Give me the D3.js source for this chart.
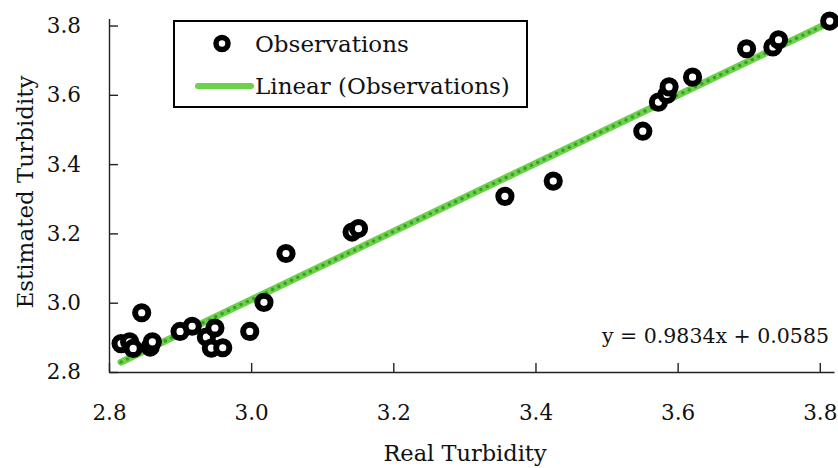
<html>
<head>
<meta charset="utf-8">
<title>Real vs Estimated Turbidity</title>
<style>
  html, body { margin: 0; background: #fff; }
  body { width: 838px; height: 468px; overflow: hidden; }
  text { font-family: "DejaVu Serif", serif; fill: #111; }
  .axis path, .axis line { stroke: #222; stroke-width: 1.4; }
  .axis text { font-size: 21.5px; font-family: "DejaVu Serif", serif; fill: #111; }
</style>
</head>
<body>
<div id="chart"></div>
<script src="https://cdn.jsdelivr.net/npm/d3@7"></script>
<script>
// observations
var realTurbidity = [2.817, 2.829, 2.834, 2.846, 2.858, 2.861, 2.900, 2.917, 2.937, 2.949,
                     2.944, 2.960, 2.998, 3.018, 3.049, 3.142, 3.151, 3.357, 3.425, 3.551,
                     3.573, 3.585, 3.588, 3.621, 3.697, 3.734, 3.742, 3.814]
var estimatedTurbidity = [2.882, 2.887, 2.868, 2.971, 2.872, 2.887, 2.917, 2.932, 2.901, 2.927,
                          2.869, 2.870, 2.917, 3.001, 3.142, 3.204, 3.214, 3.307, 3.351, 3.495,
                          3.579, 3.601, 3.623, 3.651, 3.733, 3.738, 3.759, 3.813]
var xTicks = [2.8, 3.0, 3.2, 3.4, 3.6, 3.8]
var yTicks = [2.8, 3.0, 3.2, 3.4, 3.6, 3.8]
var trendSlope = 0.9834
var trendIntercept = 0.0585
var legendLabels = ["Observations", "Linear (Observations)"]

var width = 838, height = 468

var svg = d3.select("#chart").append("svg")
	.attr("width", width)
	.attr("height", height)

var x = d3.scaleLinear().domain([2.8, 3.82]).range([109, 834])
var y = d3.scaleLinear().domain([2.8, 3.82]).range([372, 18.6])

// axes, ticks point inward
svg.append("g")
	.attr("class", "axis")
	.attr("transform", "translate(0," + y(2.8) + ")")
	.call(d3.axisBottom(x).tickValues(xTicks).tickFormat(d3.format(".1f"))
		.tickSizeInner(-9).tickSizeOuter(0).tickPadding(33))

svg.append("g")
	.attr("class", "axis")
	.attr("transform", "translate(" + x(2.8) + ",0)")
	.call(d3.axisLeft(y).tickValues(yTicks).tickFormat(d3.format(".1f"))
		.tickSizeInner(-9).tickSizeOuter(0).tickPadding(28))

// trendline: light green band with darker dots on top
var xMin = d3.min(realTurbidity), xMax = d3.max(realTurbidity)
var trend = [xMin, xMax].map(function(v) { return [v, trendSlope * v + trendIntercept] })
var trendLine = d3.line().x(function(d) { return x(d[0]) }).y(function(d) { return y(d[1]) })

svg.append("path")
	.attr("d", trendLine(trend))
	.attr("stroke", "#6cd24a")
	.attr("stroke-width", 7)
	.attr("stroke-linecap", "round")
	.attr("fill", "none")

svg.append("path")
	.attr("d", trendLine(trend))
	.attr("stroke", "#3a9d2c")
	.attr("stroke-width", 3.6)
	.attr("stroke-linecap", "round")
	.attr("stroke-dasharray", "0 7")
	.attr("fill", "none")

// observation rings
svg.append("g").selectAll("circle")
	.data(d3.range(realTurbidity.length))
	.enter()
	.append("circle")
	.attr("cx", function(i) { return x(realTurbidity[i]) })
	.attr("cy", function(i) { return y(estimatedTurbidity[i]) })
	.attr("r", 6.6)
	.attr("fill", "#fff")
	.attr("stroke", "#000")
	.attr("stroke-width", 6)

// equation
svg.append("text")
	.attr("x", 829)
	.attr("y", 343)
	.attr("text-anchor", "end")
	.style("font-size", "20.5px")
	.text("y = " + trendSlope + "x + " + trendIntercept)

// axis titles
svg.append("text")
	.attr("x", 465)
	.attr("y", 461)
	.attr("text-anchor", "middle")
	.style("font-size", "22.5px")
	.text("Real Turbidity")

svg.append("text")
	.attr("transform", "translate(33,192) rotate(-90)")
	.attr("text-anchor", "middle")
	.style("font-size", "23px")
	.text("Estimated Turbidity")

// legend
var legend = svg.append("g")

legend.append("rect")
	.attr("x", 174)
	.attr("y", 21)
	.attr("width", 353)
	.attr("height", 86)
	.attr("fill", "#fff")
	.attr("stroke", "#000")
	.attr("stroke-width", 2)

legend.append("circle")
	.attr("cx", 222)
	.attr("cy", 43.5)
	.attr("r", 6)
	.attr("fill", "#fff")
	.attr("stroke", "#000")
	.attr("stroke-width", 5.5)

legend.append("line")
	.attr("x1", 198).attr("x2", 251)
	.attr("y1", 86).attr("y2", 86)
	.attr("stroke", "#6cd24a")
	.attr("stroke-width", 6)
	.attr("stroke-linecap", "round")

legend.selectAll("text.leg")
	.data(legendLabels)
	.enter()
	.append("text")
	.attr("class", "leg")
	.attr("x", 255)
	.attr("y", function(d, i) { return 51.5 + i * 42.5 })
	.style("font-size", "23px")
	.text(function(d) { return d })
</script>
</body>
</html>
